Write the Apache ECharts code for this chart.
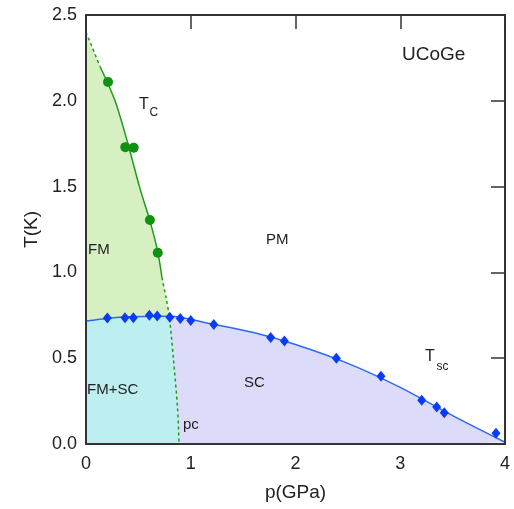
<!DOCTYPE html>
<html>
<head>
<meta charset="utf-8">
<script src="https://cdn.jsdelivr.net/npm/echarts@6/dist/echarts.min.js"></script>
<style>html,body{margin:0;padding:0;background:#fff;}#c{width:514px;height:509px;}</style>
</head>
<body>
<div id="c"></div>
<script>
// Measured Tc (ferromagnetic transition) points
const tcP = [0.21, 0.375, 0.455, 0.61, 0.685];
const tcT = [2.11, 1.73, 1.727, 1.305, 1.115];
// Measured Tsc (superconducting transition) points
const tscP = [0.204, 0.372, 0.452, 0.605, 0.68, 0.80, 0.90, 1.0, 1.22, 1.763, 1.894, 2.39, 2.816, 3.205, 3.348, 3.42, 3.914];
const tscT = [0.734, 0.735, 0.735, 0.75, 0.746, 0.738, 0.732, 0.72, 0.697, 0.62, 0.60, 0.50, 0.395, 0.255, 0.216, 0.182, 0.062];
// Guide curve for Tc(p)
const tcCurveP = [0, 0.134, 0.277, 0.4, 0.51, 0.61, 0.685, 0.725, 0.765, 0.795, 0.834, 0.875, 0.888];
const tcCurveT = [2.40, 2.2, 2.0, 1.75, 1.5, 1.3, 1.12, 0.97, 0.85, 0.745, 0.5, 0.2, 0];
// Guide curve for Tsc(p)
const tscCurveP = [0, 0.4, 0.795, 1.2, 1.6, 2.0, 2.5, 3.0, 3.5, 4.0];
const tscCurveT = [0.717, 0.742, 0.745, 0.70, 0.65, 0.58, 0.47, 0.33, 0.165, 0.01];
// Tick labels
const xTicks = [0, 1, 2, 3, 4];
const yTicks = ['0.0', '0.5', '1.0', '1.5', '2.0', '2.5'];

const pairs = (P, T) => P.map((p, i) => [p, T[i]]);
const tcCurve = pairs(tcCurveP, tcCurveT);
const tscCurve = pairs(tscCurveP, tscCurveT);
const crossTc = tcCurveP.indexOf(0.795);
const crossTsc = tscCurveP.indexOf(0.795);
const solidStart = 1, solidEnd = 7;

const FONT = 'Liberation Sans, Arial, Helvetica, sans-serif';
const SM = 0.3;
const areaSeries = (data, color) => ({
  type: 'line', data, smooth: SM, symbol: 'none', silent: true,
  lineStyle: { width: 0, opacity: 0 }, areaStyle: { color, opacity: 1 }, z: 1
});
const lineSeries = (data, color, type) => ({
  type: 'line', data, smooth: SM, symbol: 'none', silent: true,
  lineStyle: { width: 1.5, color, type: type || 'solid', dashOffset: 0 }, z: 3
});

const chart = echarts.init(document.getElementById('c'), null, { renderer: 'canvas' });
const axisLine = { show: true, onZero: false, lineStyle: { color: '#333', width: 2 } };
const inTick = { show: true, inside: true, length: 14, lineStyle: { color: '#333', width: 1.5 } };
const txt = (x, y, text, size) => ({ type: 'text', x, y, z: 20,
  style: { text, font: size + 'px ' + FONT, fill: '#222', align: 'left', verticalAlign: 'middle' } });
chart.setOption({
  animation: false,
  backgroundColor: '#fff',
  grid: { left: 86, top: 15, right: 9, bottom: 65 },
  xAxis: [
    { type: 'value', position: 'bottom', min: 0, max: 4, interval: 1, z: 10,
      axisLine, axisTick: { show: false }, splitLine: { show: false },
      axisLabel: { fontSize: 18, color: '#222', fontFamily: FONT, margin: 11,
        formatter: v => String(xTicks[Math.round(v)]) },
      name: 'p(GPa)', nameLocation: 'middle', nameGap: 39,
      nameTextStyle: { fontSize: 19, color: '#222', fontFamily: FONT } },
    { type: 'value', position: 'top', min: 0, max: 4, interval: 1, z: 10,
      axisLine, axisTick: inTick, axisLabel: { show: false }, splitLine: { show: false } }
  ],
  yAxis: [
    { type: 'value', position: 'left', min: 0, max: 2.5, interval: 0.5, z: 10,
      axisLine, axisTick: { show: false }, splitLine: { show: false },
      axisLabel: { fontSize: 18, color: '#222', fontFamily: FONT, margin: 9,
        formatter: v => yTicks[Math.round(v * 2)] },
      name: 'T(K)', nameLocation: 'middle', nameGap: 44, nameRotate: 90,
      nameTextStyle: { fontSize: 19, color: '#222', fontFamily: FONT } },
    { type: 'value', position: 'right', min: 0, max: 2.5, interval: 0.5, z: 10,
      axisLine, axisTick: inTick, axisLabel: { show: false }, splitLine: { show: false } }
  ],
  series: [
    areaSeries(tscCurve, '#dcdcfa'),
    areaSeries(tcCurve, '#d6f0c2'),
    areaSeries(tscCurve.slice(0, crossTsc + 1), '#bdeff1'),
    areaSeries(tcCurve.slice(crossTc), '#bdeff1'),
    lineSeries(tscCurve, '#2a6af5'),
    lineSeries(tcCurve.slice(0, solidStart + 1), '#1f9a1f', [3, 3]),
    lineSeries(tcCurve.slice(solidStart, solidEnd + 1), '#1f9a1f'),
    lineSeries(tcCurve.slice(solidEnd), '#1f9a1f', [3, 3]),
    { type: 'scatter', data: pairs(tcP, tcT), symbol: 'circle', symbolSize: 10,
      itemStyle: { color: '#0f920f', opacity: 1 }, z: 5 },
    { type: 'scatter', data: pairs(tscP, tscT), symbol: 'diamond', symbolSize: [9, 11],
      itemStyle: { color: '#0a3cf5', opacity: 1 }, z: 5 }
  ],
  graphic: [
    txt(402, 55, 'UCoGe', 19),
    txt(139, 105, 'T', 16),
    txt(149.5, 113, 'C', 12),
    txt(266, 240, 'PM', 15),
    txt(88, 250, 'FM', 15),
    txt(87, 390, 'FM+SC', 15),
    txt(244, 383, 'SC', 15),
    txt(183, 425, 'pc', 15),
    txt(425, 357, 'T', 16),
    txt(436.5, 367, 'sc', 12)
  ]
});
</script>
</body>
</html>
